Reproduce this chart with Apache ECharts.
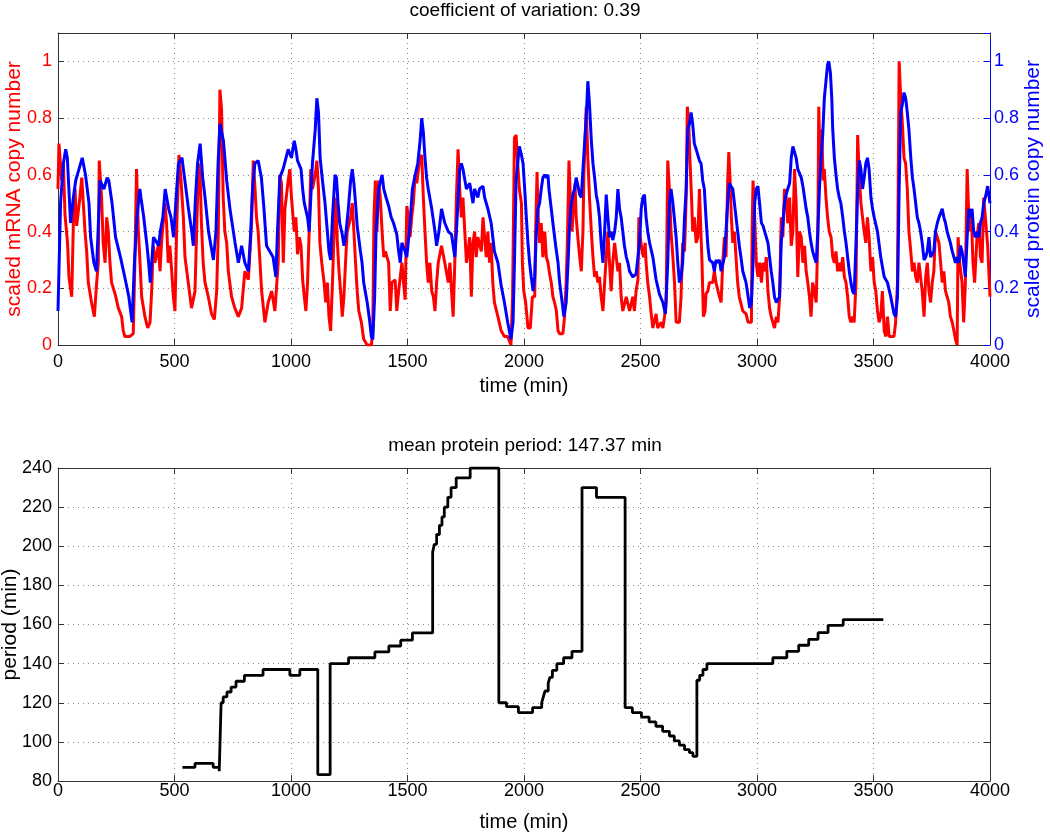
<!DOCTYPE html>
<html><head><meta charset="utf-8">
<script src="https://cdn.jsdelivr.net/npm/echarts@6/dist/echarts.min.js"></script>
<style>html,body{margin:0;padding:0;background:#fff}#c{width:1050px;height:832px}</style>
</head><body><div id="c"></div>
<script>
// ---------- data ----------
const topTitle = 'coefficient of variation: 0.39';
const bottomTitle = 'mean protein period: 147.37 min';

const mrnaTime = [0,4,16,23,30,41,47,59,66,73,80,94,102,116,123,130,144,156,166,173,177,187,194,202,209,216,223,230,245,259,273,280,287,309,323,330,337,345,352,359,373,385,395,402,409,416,430,438,445,459,466,473,480,488,495,502,509,519,528,538,545,559,573,588,599,605,611,616,623,631,645,659,671,681,688,695,702,709,716,724,731,745,759,774,788,802,817,831,838,845,852,859,867,874,888,902,917,931,945,952,959,967,974,988,995,1002,
1014,1021,1028,1036,1043,1050,1057,1064,1071,1078,1085,1092,1099,1107,1111,1118,1124,1132,1142,1149,1156,1163,1170,1178,1185,1192,1199,1206,1213,1220,1227,1234,1241,1256,1263,1270,1277,1284,1291,1302,1312,1327,1345,1351,1356,1362,1369,1376,1383,1391,1398,1405,1419,1426,1433,1447,1454,1462,1476,1483,1490,1497,1504,1511,1518,1525,1533,1540,1547,1554,1561,1568,1575,1582,1589,1596,1604,1611,1618,1625,1632,1646,1660,1675,1682,1689,1696,1703,1710,1717,1724,1731,1738,1746,1753,1760,1767,1774,1781,1788,1795,1802,1817,1824,1831,1838,1845,1852,1859,1866,1873,1888,1902,1916,1930,1944,1951,1959,1966,1973,1980,
1989,1993,1999,2007,2017,2027,2036,2046,2050,2056,2061,2067,2074,2081,2089,2096,2103,2110,2117,2124,2131,2139,2146,2153,2167,2174,2181,2186,2193,2199,2206,2213,2219,2224,2231,2239,2246,2253,2257,2263,2267,2274,2281,2289,2296,2303,2310,2317,2324,2331,2339,2346,2353,2360,2367,2374,2381,2389,2396,2403,2410,2417,2424,2439,2453,2467,2474,2481,2489,2493,2499,2507,2513,2520,2524,2531,2539,2546,2553,2567,2574,2589,2596,2603,2610,2617,2624,2631,2639,2646,2653,2667,2674,2681,2689,2696,2701,2707,2713,2720,2724,2731,2739,2746,2753,2757,2764,2770,2777,2781,2789,2796,2810,2817,2824,2831,2839,2846,2853,2860,2867,2874,2879,2884,2890,2896,2903,2910,2917,2924,2939,2953,
2962,2976,2979,2983,2990,2997,3004,3011,3019,3026,3033,3040,3047,3054,3061,3068,3075,3083,3090,3097,3104,3111,3118,3125,3132,3140,3147,3154,3161,3168,3175,3182,3190,3197,3204,3211,3218,3225,3232,3239,3246,3254,3261,3265,3271,3278,3284,3289,3296,3303,3310,3318,3325,3332,3339,3346,3353,3360,3368,3375,3382,3389,3396,3403,3410,3417,3425,3432,3439,3446,3453,3460,3467,3474,3481,3489,3496,3503,3510,3517,3524,3531,3538,3546,3553,3560,3567,3588,3595,3603,3610,3617,3624,3631,3638,3645,3652,3660,3667,3674,3681,3688,3695,3702,3709,3717,3724,3731,3738,3745,3752,3759,3766,3774,3781,3788,3795,3802,3809,3816,3823,3830,3838,3845,3852,3859,3863,3870,3880,3887,3894,3902,3906,3913,3920,3927,3934,3944,3952,3959,3966,3973,3980,3990,4000];
const mrnaValue = [0.55,0.71,0.58,0.64,0.46,0.36,0.24,0.17,0.43,0.55,0.42,0.52,0.59,0.40,0.33,0.22,0.15,0.10,0.22,0.29,0.65,0.52,0.36,0.29,0.45,0.40,0.29,0.22,0.18,0.13,0.10,0.05,0.03,0.03,0.04,0.29,0.62,0.40,0.29,0.17,0.10,0.06,0.08,0.19,0.35,0.29,0.35,0.26,0.37,0.50,0.43,0.29,0.35,0.26,0.17,0.12,0.40,0.67,0.58,0.45,0.31,0.22,0.13,0.19,0.52,0.64,0.57,0.42,0.29,0.22,0.17,0.11,0.09,0.19,0.40,0.90,0.83,0.52,0.40,0.36,0.26,0.17,0.13,0.10,0.13,0.26,0.23,0.43,0.65,0.56,0.45,0.40,0.29,0.19,0.08,0.15,0.19,0.12,0.29,0.60,0.57,0.29,0.48,0.58,0.62,0.52,
0.40,0.45,0.32,0.38,0.35,0.23,0.17,0.12,0.22,0.40,0.62,0.55,0.58,0.62,0.65,0.55,0.36,0.29,0.22,0.15,0.22,0.10,0.05,0.22,0.40,0.52,0.36,0.26,0.19,0.10,0.17,0.29,0.40,0.45,0.50,0.40,0.29,0.19,0.12,0.08,0.02,0.00,0.00,0.05,0.45,0.58,0.40,0.58,0.52,0.40,0.31,0.33,0.29,0.12,0.22,0.23,0.12,0.19,0.29,0.22,0.16,0.49,0.45,0.38,0.45,0.50,0.60,0.57,0.62,0.66,0.67,0.52,0.40,0.29,0.22,0.29,0.19,0.17,0.12,0.22,0.29,0.35,0.29,0.22,0.29,0.19,0.10,0.29,0.52,0.69,0.55,0.45,0.52,0.40,0.29,0.33,0.38,0.17,0.36,0.40,0.31,0.38,0.33,0.45,0.38,0.31,0.40,0.29,0.36,0.22,0.15,0.10,0.05,0.03,0.03,0.00,0.17,0.73,0.74,0.64,0.55,
0.50,0.29,0.19,0.15,0.06,0.06,0.17,0.17,0.40,0.61,0.45,0.36,0.43,0.31,0.40,0.31,0.29,0.25,0.22,0.17,0.15,0.12,0.05,0.04,0.04,0.10,0.22,0.36,0.65,0.52,0.40,0.50,0.57,0.45,0.38,0.31,0.26,0.40,0.60,0.74,0.84,0.66,0.52,0.40,0.31,0.24,0.26,0.22,0.24,0.17,0.12,0.22,0.31,0.40,0.29,0.19,0.29,0.36,0.31,0.26,0.29,0.17,0.12,0.17,0.12,0.17,0.12,0.19,0.23,0.45,0.38,0.33,0.31,0.36,0.29,0.22,0.17,0.11,0.06,0.11,0.06,0.08,0.06,0.10,0.15,0.65,0.55,0.40,0.31,0.22,0.08,0.08,0.17,0.36,0.33,0.52,0.84,0.78,0.64,0.50,0.40,0.45,0.36,0.38,0.55,0.45,0.29,0.10,0.12,0.18,0.19,0.22,0.22,0.26,0.22,0.22,0.17,0.15,0.29,0.38,0.31,0.57,0.68,0.59,0.45,0.36,0.40,0.31,0.22,0.17,0.12,0.11,
0.08,0.08,0.40,0.58,0.45,0.29,0.24,0.29,0.22,0.29,0.26,0.31,0.19,0.13,0.10,0.08,0.06,0.10,0.08,0.17,0.45,0.38,0.55,0.52,0.43,0.52,0.35,0.40,0.62,0.50,0.24,0.40,0.38,0.29,0.35,0.26,0.22,0.17,0.10,0.22,0.19,0.15,0.38,0.84,0.64,0.76,0.58,0.62,0.52,0.45,0.40,0.38,0.31,0.29,0.33,0.26,0.29,0.26,0.31,0.24,0.22,0.17,0.10,0.08,0.10,0.08,0.22,0.74,0.59,0.50,0.45,0.40,0.36,0.45,0.38,0.26,0.31,0.22,0.19,0.12,0.08,0.10,0.19,0.05,0.03,0.10,0.03,0.03,0.08,0.22,1.00,0.87,0.78,0.66,0.64,0.55,0.40,0.33,0.26,0.29,0.24,0.22,0.29,0.24,0.19,0.10,0.24,0.29,0.19,0.15,0.22,0.26,0.40,0.38,0.36,0.29,0.22,0.26,0.19,0.17,0.15,0.10,0.08,0.05,0.02,0.00,0.38,0.29,0.22,0.08,0.21,0.62,0.52,0.40,0.45,0.29,0.22,0.38,0.43,0.31,0.29,0.52,0.45,0.35,0.17];

const proteinTime = [0,11,23,33,40,54,66,76,90,104,118,133,140,154,165,172,180,197,211,218,232,247,268,289,304,318,328,339,351,356,368,382,389,396,410,425,432,439,450,460,475,485,496,507,517,532,546,560,574,581,590,599,610,621,631,646,667,678,687,695,710,724,738,760,774,788,802,817,826,835,845,859,873,884,895,909,923,935,942,952,966,988,1002,
1014,1021,1028,1043,1050,1057,1071,1078,1092,1104,1111,1118,1125,1135,1146,1156,1163,1170,1178,1189,1195,1202,1209,1220,1227,1234,1246,1256,1263,1270,1277,1284,1298,1305,1312,1327,1337,1345,1351,1359,1365,1376,1391,1398,1408,1419,1430,1440,1454,1462,1469,1476,1490,1497,1511,1521,1533,1544,1554,1561,1568,1575,1582,1589,1604,1618,1625,1635,1646,1660,1675,1689,1696,1703,1710,1724,1731,1738,1753,1767,1781,1788,1802,1809,1824,1831,1845,1859,1873,1888,1902,1916,1930,1944,1953,1959,1966,1973,1980,
1989,1996,2003,2010,2017,2024,2031,2039,2046,2053,2060,2067,2074,2081,2089,2096,2103,2107,2117,2124,2136,2146,2153,2164,2171,2181,2189,2196,2203,2210,2217,2224,2231,2239,2246,2253,2260,2267,2274,2281,2289,2296,2303,2310,2317,2324,2331,2339,2346,2353,2360,2367,2374,2381,2389,2396,2403,2410,2417,2424,2431,2439,2446,2453,2460,2467,2481,2489,2496,2503,2510,2517,2524,2531,2539,2553,2567,2581,2596,2607,2617,2624,2631,2639,2653,2660,2667,2674,2681,2689,2696,2703,2710,2717,2724,2731,2739,2746,2753,2760,2767,2774,2781,2789,2796,2810,2817,2824,2831,2839,2846,2853,2860,2867,2874,2881,2889,2896,2903,2910,2917,2924,2931,2939,2953,
2962,2969,2976,2983,2990,2997,3004,3011,3019,3026,3033,3040,3047,3054,3061,3068,3075,3083,3090,3097,3104,3111,3118,3125,3132,3140,3147,3154,3161,3168,3175,3182,3190,3197,3204,3211,3218,3225,3232,3239,3246,3254,3261,3268,3275,3282,3289,3296,3303,3308,3315,3321,3325,3332,3339,3346,3353,3360,3368,3375,3382,3389,3396,3403,3410,3417,3425,3432,3439,3446,3453,3460,3467,3474,3481,3489,3496,3503,3517,3531,3546,3560,3574,3588,3595,3603,3610,3617,3624,3631,3638,3645,3652,3660,3667,3674,3681,3688,3695,3702,3709,3717,3724,3731,3738,3745,3752,3759,3766,3774,3781,3788,3795,3802,3809,3816,3823,3830,3838,3845,3852,3859,3866,3873,3880,3887,3894,3902,3909,3916,3923,3930,3937,3944,3952,3959,3966,3973,3980,3990,4000];
const proteinValue = [0.12,0.50,0.64,0.69,0.66,0.43,0.52,0.58,0.62,0.66,0.60,0.50,0.38,0.29,0.26,0.40,0.58,0.55,0.59,0.58,0.50,0.38,0.31,0.23,0.17,0.08,0.29,0.45,0.55,0.52,0.45,0.35,0.29,0.22,0.38,0.36,0.35,0.40,0.45,0.55,0.48,0.45,0.38,0.52,0.64,0.66,0.57,0.48,0.40,0.35,0.52,0.64,0.71,0.59,0.52,0.40,0.30,0.40,0.64,0.78,0.72,0.58,0.48,0.36,0.29,0.35,0.29,0.26,0.38,0.55,0.64,0.65,0.59,0.48,0.35,0.33,0.31,0.24,0.40,0.59,0.62,0.69,0.66,
0.72,0.69,0.65,0.62,0.55,0.50,0.45,0.40,0.64,0.76,0.87,0.82,0.66,0.58,0.50,0.40,0.33,0.30,0.45,0.60,0.59,0.50,0.43,0.39,0.35,0.38,0.48,0.58,0.62,0.57,0.50,0.42,0.33,0.29,0.22,0.15,0.09,0.03,0.02,0.17,0.40,0.55,0.60,0.55,0.52,0.49,0.45,0.43,0.39,0.33,0.29,0.36,0.33,0.31,0.43,0.55,0.60,0.64,0.72,0.80,0.75,0.66,0.59,0.55,0.48,0.40,0.35,0.40,0.48,0.43,0.40,0.39,0.35,0.31,0.40,0.62,0.64,0.62,0.55,0.57,0.50,0.55,0.52,0.55,0.56,0.52,0.48,0.43,0.33,0.29,0.21,0.15,0.08,0.02,0.08,0.29,0.58,0.64,0.70,
0.67,0.64,0.55,0.45,0.36,0.29,0.24,0.19,0.24,0.40,0.48,0.50,0.55,0.59,0.60,0.59,0.60,0.55,0.48,0.43,0.35,0.29,0.22,0.15,0.10,0.15,0.29,0.43,0.50,0.53,0.55,0.59,0.59,0.53,0.52,0.62,0.71,0.80,0.93,0.85,0.72,0.64,0.59,0.53,0.50,0.45,0.36,0.29,0.40,0.53,0.45,0.38,0.40,0.37,0.40,0.45,0.55,0.48,0.45,0.40,0.35,0.31,0.29,0.26,0.26,0.24,0.25,0.25,0.36,0.48,0.52,0.53,0.45,0.40,0.36,0.31,0.23,0.18,0.15,0.11,0.29,0.50,0.55,0.50,0.38,0.29,0.22,0.24,0.29,0.45,0.55,0.76,0.78,0.82,0.78,0.71,0.69,0.67,0.65,0.64,0.58,0.55,0.45,0.35,0.30,0.29,0.26,0.30,0.29,0.30,0.26,0.26,0.31,0.40,0.50,0.57,0.57,0.55,0.50,0.45,0.40,0.35,0.31,0.26,0.22,
0.17,0.13,0.15,0.29,0.50,0.55,0.56,0.50,0.43,0.42,0.40,0.38,0.36,0.31,0.26,0.22,0.17,0.15,0.16,0.17,0.36,0.43,0.50,0.53,0.55,0.57,0.66,0.70,0.70,0.66,0.62,0.62,0.59,0.56,0.52,0.48,0.45,0.40,0.36,0.33,0.31,0.29,0.40,0.55,0.66,0.74,0.87,0.93,0.99,1.00,0.96,0.87,0.76,0.66,0.60,0.55,0.52,0.50,0.45,0.40,0.36,0.31,0.26,0.22,0.19,0.18,0.36,0.55,0.65,0.62,0.55,0.59,0.64,0.66,0.62,0.52,0.48,0.45,0.40,0.31,0.24,0.22,0.17,0.11,0.10,0.17,0.55,0.82,0.85,0.89,0.87,0.82,0.76,0.66,0.59,0.55,0.50,0.45,0.43,0.40,0.36,0.30,0.31,0.33,0.38,0.31,0.31,0.33,0.40,0.43,0.45,0.45,0.48,0.45,0.43,0.40,0.38,0.36,0.33,0.31,0.29,0.31,0.29,0.35,0.33,0.29,0.24,0.38,0.48,0.45,0.48,0.40,0.38,0.40,0.38,0.43,0.45,0.50,0.52,0.56,0.50];

const periodTime = [534,588,666,692,700,709,725,743,764,800,880,995,1038,1115,1168,1247,1360,1420,1471,1521,1608,1615,1625,1637,1648,1658,1673,1687,1709,1769,1892,1925,1976,2037,2076,2083,2090,2104,2111,2122,2141,2170,2206,2249,2311,2434,2465,2504,2537,2566,2595,2624,2645,2667,2689,2710,2725,2742,2754,2768,2785,3068,3128,3179,3222,3262,3305,3370,3542];
const periodValue = [87,89,87,85,120,123,125.5,128,131,134,137,134,137,83.3,140,143,146,149,152,155.7,197,201,206,210.7,215,220,225,230,235,240,120,118,115,117.5,120,123,126,130,133,136.6,140,143,146.3,230,225,117.5,115,112.7,110.2,108,105.4,103,100.5,98.3,96,94.5,92.6,131.5,134,137,140,143,146.3,149.4,152.4,155.8,159.6,162.5,162.5];

const timeRange = [0, 4000], timeStep = 500;
const scaledRange = [0, 1.1], scaledStep = 0.2;
const periodRange = [80, 240], periodStep = 20;

// ---------- chart ----------
const FONT = '"Liberation Sans", Arial, Helvetica, sans-serif';
const zip = (a, b) => a.map((v, i) => [v, b[i]]);
const gridLine = {show: true, lineStyle: {color: '#8a8a8a', type: [1, 4], width: 1}};
const frameLine = (c) => ({show: true, onZero: false, lineStyle: {color: c, width: 1}});
const ticksIn = (c) => ({show: true, inside: true, length: 6, lineStyle: {color: c, width: 1}});
const plain = v => String(v);

function xAx(grid, pos, withLabels, margin) {
  return {
    type: 'value', gridIndex: grid, position: pos,
    min: timeRange[0], max: timeRange[1], interval: timeStep,
    axisLine: frameLine('#333'), axisTick: ticksIn('#333'),
    axisLabel: {show: withLabels, color: '#000', fontSize: 18, fontFamily: FONT, margin: margin, formatter: plain},
    splitLine: withLabels ? gridLine : {show: false},
    name: withLabels ? 'time (min)' : '', nameLocation: 'middle', nameGap: 31, nameMoveOverlap: false,
    nameTextStyle: {color: '#000', fontSize: 20, fontFamily: FONT}
  };
}

const fmt1 = v => (v > 1.05 ? '' : String(Math.round(v * 10) / 10));

const option = {
  animation: false,
  backgroundColor: '#fff',
  title: [
    {text: topTitle, left: 'center', top: 1, padding: 0,
     textStyle: {fontSize: 19, fontWeight: 'normal', color: '#000', fontFamily: FONT}},
    {text: bottomTitle, left: 'center', top: 436, padding: 0,
     textStyle: {fontSize: 19, fontWeight: 'normal', color: '#000', fontFamily: FONT}}
  ],
  grid: [
    {left: 58, right: 60, top: 33, height: 312, show: false, containLabel: false, outerBoundsMode: 'none'},
    {left: 58, right: 60, top: 468, height: 313, show: false, containLabel: false, outerBoundsMode: 'none'}
  ],
  xAxis: [
    xAx(0, 'bottom', true, 8),
    xAx(0, 'top', false, 8),
    xAx(1, 'bottom', true, 1),
    xAx(1, 'top', false, 8)
  ],
  yAxis: [
    {type: 'value', gridIndex: 0, position: 'left', min: scaledRange[0], max: scaledRange[1], interval: scaledStep,
     axisLine: frameLine('#333'), axisTick: ticksIn('#333'),
     axisLabel: {color: '#ff0000', fontSize: 18, fontFamily: FONT, margin: 6, formatter: fmt1},
     splitLine: gridLine,
     name: 'scaled mRNA copy number', nameLocation: 'middle', nameGap: 33, nameMoveOverlap: false,
     nameTextStyle: {color: '#ff0000', fontSize: 21, fontFamily: FONT}},
    {type: 'value', gridIndex: 0, position: 'right', min: scaledRange[0], max: scaledRange[1], interval: scaledStep,
     axisLine: frameLine('#0000ff'), axisTick: ticksIn('#0000ff'),
     axisLabel: {color: '#0000ff', fontSize: 18, fontFamily: FONT, margin: 4, formatter: fmt1},
     splitLine: {show: false},
     name: 'scaled protein copy number', nameLocation: 'middle', nameGap: 33, nameMoveOverlap: false,
     nameTextStyle: {color: '#0000ff', fontSize: 21, fontFamily: FONT}},
    {type: 'value', gridIndex: 1, position: 'left', min: periodRange[0], max: periodRange[1], interval: periodStep,
     axisLine: frameLine('#333'), axisTick: ticksIn('#333'),
     axisLabel: {color: '#000', fontSize: 18, fontFamily: FONT, margin: 6, formatter: plain},
     splitLine: gridLine,
     name: 'period (min)', nameLocation: 'middle', nameGap: 37, nameMoveOverlap: false,
     nameTextStyle: {color: '#000', fontSize: 21, fontFamily: FONT}},
    {type: 'value', gridIndex: 1, position: 'right', min: periodRange[0], max: periodRange[1], interval: periodStep,
     axisLine: frameLine('#333'), axisTick: ticksIn('#333'),
     axisLabel: {show: false}, splitLine: {show: false}}
  ],
  series: [
    {type: 'line', name: 'mRNA', xAxisIndex: 0, yAxisIndex: 0, data: zip(mrnaTime, mrnaValue),
     showSymbol: false, lineStyle: {color: '#ff0000', width: 3}, z: 2},
    {type: 'line', name: 'protein', xAxisIndex: 0, yAxisIndex: 1, data: zip(proteinTime, proteinValue),
     showSymbol: false, lineStyle: {color: '#0000ff', width: 3}, z: 3},
    {type: 'line', name: 'period', xAxisIndex: 2, yAxisIndex: 2, data: zip(periodTime, periodValue),
     step: 'end', showSymbol: false, lineStyle: {color: '#000', width: 2.8}, z: 3}
  ]
};
const chart = echarts.init(document.getElementById('c'), null, {renderer: 'canvas'});
chart.setOption(option);
</script></body></html>
